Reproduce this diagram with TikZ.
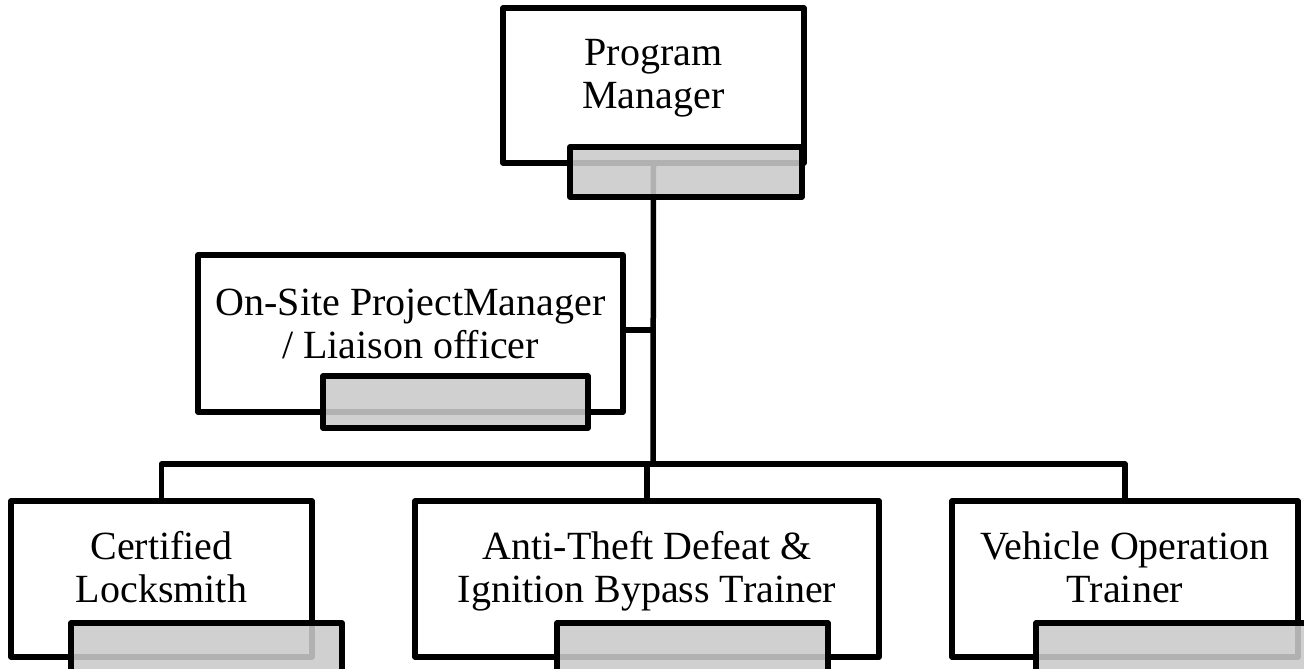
\documentclass[tikz,border=0pt]{standalone}
\usepackage{fontspec}
\setmainfont{Liberation Serif}
\definecolor{barfill}{RGB}{202,202,202}
\begin{document}
\begin{tikzpicture}[x=1pt,y=-1pt,
  every node/.style={inner sep=0pt,outer sep=0pt},
  rolebox/.style={draw=black,line width=5.5pt,line join=round,fill=white,rectangle},
  graybar/.style={draw=black,line width=5.5pt,line join=round,fill=barfill,fill opacity=0.88,rectangle,minimum width=#1,minimum height=52pt},
  label/.style={anchor=base,align=center,font=\fontsize{40}{43}\selectfont},
  link/.style={line width=5.5pt,line join=round,line cap=round}]
\clip (0,0) rectangle (1304,669);
\fill[white] (0,0) rectangle (1304,669);
% boxes
\node[rolebox,minimum width=301pt,minimum height=155pt] (pm) at (653.5,85.5) {};
\node[rolebox,minimum width=425pt,minimum height=157pt] (os) at (410.5,333.5) {};
\node[rolebox,minimum width=301pt,minimum height=156pt] (cl) at (161.5,579) {};
\node[rolebox,minimum width=464pt,minimum height=156pt] (at) at (647,579) {};
\node[rolebox,minimum width=346pt,minimum height=156pt] (vo) at (1125,579) {};
% labels (base = last line)
\node[label] (pmt) at (653.5,108) {Program\\Manager};
\node[label] (ost) at (410.5,358) {On-Site ProjectManager\\/ Liaison officer};
\node[label] (clt) at (161.5,602) {Certified\\Locksmith};
\node[label] (att) at (647,602) {Anti-Theft Defeat \&\\Ignition Bypass Trainer};
\node[label] (vot) at (1125,602) {Vehicle Operation\\Trainer};
% connectors
\coordinate (bar) at (653,464);
\coordinate (branch) at (653,330);
\draw[link] (pm.south) -- (bar);
\draw[link] (os.east |- branch) -- (branch);
\draw[link] (cl.north) |- (bar) -| (vo.north);
\draw[link] (at.north) -- (at.north |- bar);
% gray bars
\node[graybar=232pt,minimum height=50pt] (pmg) at (686,172) {};
\node[graybar=265pt] (osg) at (455.5,402) {};
\node[graybar=271pt] (clg) at (206.5,649) {};
\node[graybar=271pt] (atg) at (692.5,649) {};
\node[graybar=271pt] (vog) at (1171.5,649) {};
\end{tikzpicture}
\end{document}
